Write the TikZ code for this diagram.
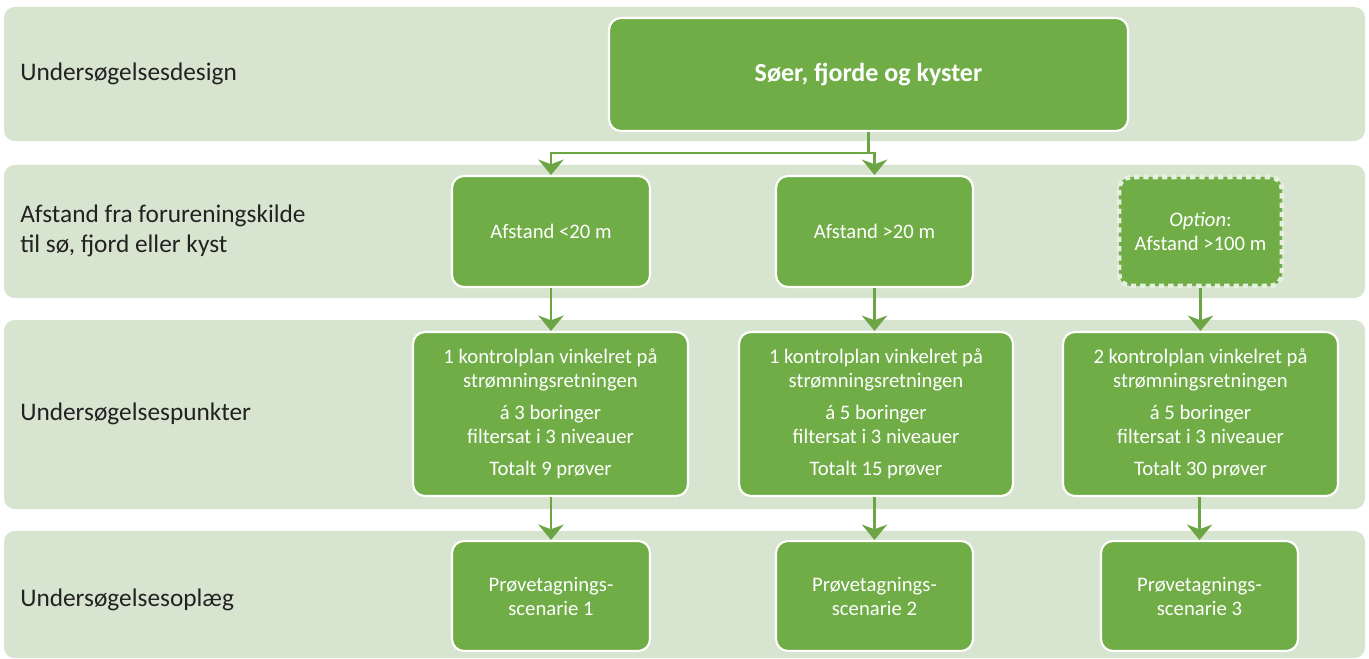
\documentclass[tikz,border=0pt]{standalone}
\usepackage{fontspec}
\setmainfont{Carlito}
\usetikzlibrary{arrows.meta,positioning}
\definecolor{bandgreen}{HTML}{D7E4CF}
\definecolor{boxgreen}{HTML}{70AD47}
\definecolor{linegreen}{HTML}{6CA544}
\definecolor{dashgreen}{HTML}{E6F0DF}
\definecolor{labelgray}{HTML}{222222}
\tikzset{
  band/.style={fill=bandgreen, draw=none, rounded corners=8pt, inner sep=0pt},
  bandlabel/.style={anchor=west, text=labelgray, font=\fontsize{19}{23}\selectfont, align=left, inner sep=0pt},
  gbox/.style={fill=boxgreen, draw=white, line width=1.6pt, rounded corners=9pt,
    text=white, align=center, inner sep=0pt, font=\fontsize{15.5}{18}\selectfont},
  optbox/.style={gbox, draw=dashgreen, line width=3.6pt, dash pattern=on 4pt off 3pt},
  sz/.style 2 args={minimum width=#1*0.75pt, minimum height=#2*0.75pt},
  arr/.style={draw=linegreen, line width=2pt,
    -{Stealth[length=11.5pt, width=19pt, inset=3.5pt]}},
}
\begin{document}
\begin{tikzpicture}[x=0.75pt, y=-0.75pt]
\useasboundingbox (0,0) rectangle (1369,659);

% background bands
\node[band, sz={1361}{134}] (b1) at (684.5,74) {};
\node[band, sz={1361}{133}] (b2) at (684.5,231.5) {};
\node[band, sz={1361}{189}] (b3) at (684.5,414.5) {};
\node[band, sz={1361}{127}] (b4) at (684.5,594.5) {};

% row labels
\node[bandlabel] (l1) at (20,74) {Undersøgelsesdesign};
\node[bandlabel] (l2) at (20,231) {Afstand fra forureningskilde\\til sø, fjord eller kyst};
\node[bandlabel] (l3) at (20,414) {Undersøgelsespunkter};
\node[bandlabel] (l4) at (20,600) {Undersøgelsesoplæg};

% top box
\node[gbox, sz={519}{113}, font=\bfseries\fontsize{19.5}{23}\selectfont] (top) at (868.5,74.5) {Søer, fjorde og kyster};

% distance boxes
\node[gbox, sz={198}{111}] (d1) at (551,231.5) {Afstand <20 m};
\node[gbox, sz={197}{111}] (d2) at (874.5,231.5) {Afstand >20 m};
\node[optbox, sz={163}{109}] (d3) at (1200.5,231.5) {\textit{Option}:\\Afstand >100 m};

% sampling point boxes
\node[gbox, sz={275}{164}] (p1) at (550.5,414) {1 kontrolplan vinkelret på\\strømningsretningen\\[6pt]á 3 boringer\\filtersat i 3 niveauer\\[6pt]Totalt 9 prøver};
\node[gbox, sz={274}{164}] (p2) at (876,414) {1 kontrolplan vinkelret på\\strømningsretningen\\[6pt]á 5 boringer\\filtersat i 3 niveauer\\[6pt]Totalt 15 prøver};
\node[gbox, sz={275}{164}] (p3) at (1200.5,414) {2 kontrolplan vinkelret på\\strømningsretningen\\[6pt]á 5 boringer\\filtersat i 3 niveauer\\[6pt]Totalt 30 prøver};

% scenario boxes
\node[gbox, sz={198}{110}] (s1) at (551,596) {Prøvetagnings-\\scenarie 1};
\node[gbox, sz={197}{110}] (s2) at (874.5,596) {Prøvetagnings-\\scenarie 2};
\node[gbox, sz={197}{110}] (s3) at (1199.5,596) {Prøvetagnings-\\scenarie 3};

% connectors
\coordinate (j) at (868.5,153);
\draw[arr] (top.south) -- (j) -| (d1.north);
\draw[arr] (j) -| (d2.north);
\draw[arr] (d1.south) -- (d1.south |- p1.north);
\draw[arr] (d2.south) -- (d2.south |- p2.north);
\draw[arr] (d3.south) -- (d3.south |- p3.north);
\draw[arr] (p1.south -| s1.north) -- (s1.north);
\draw[arr] (p2.south -| s2.north) -- (s2.north);
\draw[arr] (p3.south -| s3.north) -- (s3.north);
\end{tikzpicture}
\end{document}
